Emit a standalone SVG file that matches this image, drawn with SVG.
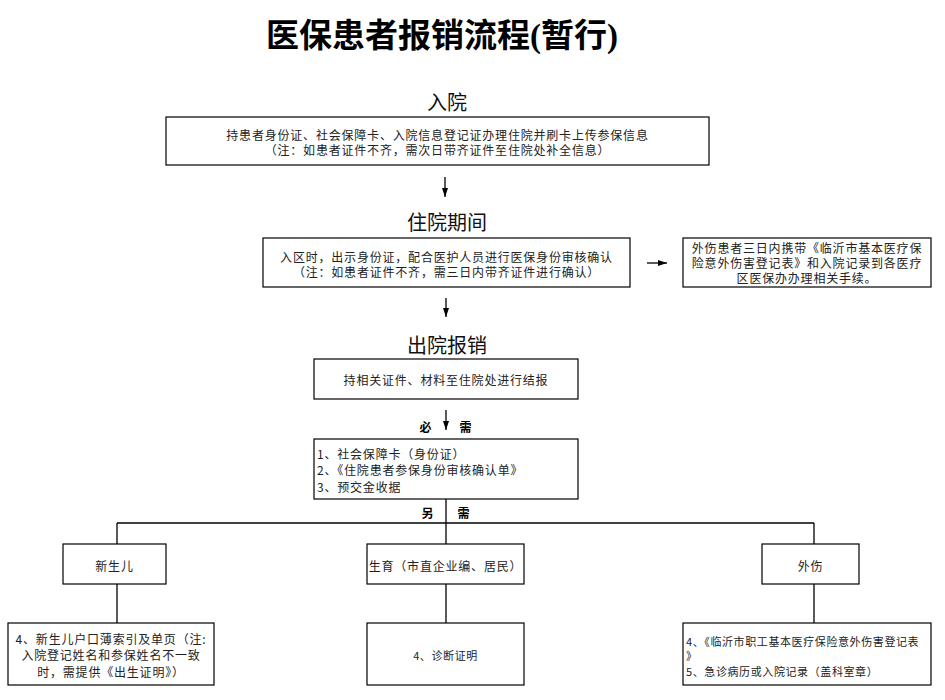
<svg xmlns="http://www.w3.org/2000/svg" width="945" height="700" viewBox="0 0 945 700">
<style>
.bg{fill:#ffffff}
.box{fill:#ffffff;stroke:#000000;stroke-width:1.2}
.ln{fill:none;stroke:#000000;stroke-width:1.3}
.t{font-family:"Noto Sans CJK SC","Liberation Sans",sans-serif;font-size:12px;letter-spacing:0.8px;fill:#222222}
.s{font-size:11px;letter-spacing:0.6px}
.c{text-anchor:middle}
.h{font-family:"Noto Sans CJK SC","Liberation Sans",sans-serif;font-size:20px;fill:#111111;text-anchor:middle}
.title{font-family:"Liberation Serif","Noto Sans CJK SC",serif;font-size:33px;font-weight:bold;fill:#000000;text-anchor:middle}
.b{font-weight:bold;fill:#000000}
</style>
<defs>
<marker id="arr" viewBox="0 0 10 10" refX="10" refY="5" markerWidth="9" markerHeight="6" markerUnits="userSpaceOnUse" orient="auto" preserveAspectRatio="none">
<path d="M0,0 L10,5 L0,10 z" fill="#000000"/>
</marker>
</defs>
<rect class="bg" x="0" y="0" width="945" height="700"/>

<g id="title">
<text class="title" x="442" y="47"><tspan font-family="Noto Sans CJK SC, sans-serif">医保患者报销流程</tspan>(<tspan font-family="Noto Sans CJK SC, sans-serif">暂行</tspan>)</text>
</g>

<g id="heading-admit"><text class="h" x="447" y="109.5">入院</text></g>
<g id="heading-stay"><text class="h" x="447" y="229.5">住院期间</text></g>
<g id="heading-discharge"><text class="h" x="447" y="352.5">出院报销</text></g>

<g id="connectors">
<line class="ln" x1="445" y1="177" x2="445" y2="197" marker-end="url(#arr)"/>
<line class="ln" x1="446" y1="298" x2="446" y2="317" marker-end="url(#arr)"/>
<line class="ln" x1="647" y1="263" x2="667" y2="263" marker-end="url(#arr)"/>
<line class="ln" x1="446" y1="410" x2="446" y2="430" marker-end="url(#arr)"/>
<line class="ln" x1="446" y1="499" x2="446" y2="544"/>
<line class="ln" x1="117" y1="523" x2="814" y2="523"/>
<line class="ln" x1="117" y1="523" x2="117" y2="544"/>
<line class="ln" x1="814" y1="523" x2="814" y2="544"/>
<line class="ln" x1="117" y1="584" x2="117" y2="623"/>
<line class="ln" x1="446" y1="584" x2="446" y2="623"/>
<line class="ln" x1="814" y1="584" x2="814" y2="623"/>
<text class="t b" x="426" y="431.5" text-anchor="middle">必</text>
<text class="t b" x="466" y="431.5" text-anchor="middle">需</text>
<text class="t b" x="428" y="517.5" text-anchor="middle">另</text>
<text class="t b" x="464" y="517.5" text-anchor="middle">需</text>
</g>

<g id="node-admit">
<rect class="box" x="166" y="117" width="543" height="48"/>
<text class="t c" x="437.5" y="139.5">持患者身份证、社会保障卡、入院信息登记证办理住院并刷卡上传参保信息</text>
<text class="t c" x="437.5" y="154.5">（注：如患者证件不齐，需次日带齐证件至住院处补全信息）</text>
</g>

<g id="node-stay">
<rect class="box" x="263" y="238" width="367" height="49"/>
<text class="t c" x="446.5" y="261.5">入区时，出示身份证，配合医护人员进行医保身份审核确认</text>
<text class="t c" x="446.5" y="276.5">（注：如患者证件不齐，需三日内带齐证件进行确认）</text>
</g>

<g id="node-injury-note">
<rect class="box" x="683" y="238" width="248" height="49"/>
<text class="t c" x="807" y="252.5">外伤患者三日内携带《临沂市基本医疗保</text>
<text class="t c" x="807" y="267.5">险意外伤害登记表》和入院记录到各医疗</text>
<text class="t c" x="807" y="282.5">区医保办办理相关手续。</text>
</g>

<g id="node-settle">
<rect class="box" x="314" y="359" width="264" height="40"/>
<text class="t c" x="446" y="384.5">持相关证件、材料至住院处进行结报</text>
</g>

<g id="node-required">
<rect class="box" x="314" y="439" width="264" height="60"/>
<text class="t" x="317" y="458.5">1、社会保障卡（身份证）</text>
<text class="t" x="317" y="475">2、《住院患者参保身份审核确认单》</text>
<text class="t" x="317" y="491.5">3、预交金收据</text>
</g>

<g id="node-newborn">
<rect class="box" x="63" y="544" width="103" height="40"/>
<text class="t c" x="114.5" y="570.5">新生儿</text>
</g>

<g id="node-birth">
<rect class="box" x="367" y="544" width="157" height="40"/>
<text class="t c" x="445.5" y="570.5">生育（市直企业编、居民）</text>
</g>

<g id="node-injury">
<rect class="box" x="762" y="544" width="97" height="40"/>
<text class="t c" x="810.5" y="570.5">外伤</text>
</g>

<g id="node-newborn-docs">
<rect class="box" x="8" y="623" width="206" height="62"/>
<text class="t c" x="111" y="643.5">4、新生儿户口薄索引及单页（注:</text>
<text class="t c" x="111" y="660">入院登记姓名和参保姓名不一致</text>
<text class="t c" x="111" y="676.5">时，需提供《出生证明》）</text>
</g>

<g id="node-birth-docs">
<rect class="box" x="367" y="623" width="157" height="62"/>
<text class="t s c" x="445.5" y="660">4、诊断证明</text>
</g>

<g id="node-injury-docs">
<rect class="box" x="683" y="623" width="248" height="62"/>
<text class="t s" x="686" y="646">4、《临沂市职工基本医疗保险意外伤害登记表</text>
<text class="t s" x="686" y="659.5">》</text>
<text class="t s" x="686" y="676">5、急诊病历或入院记录（盖科室章）</text>
</g>
</svg>
